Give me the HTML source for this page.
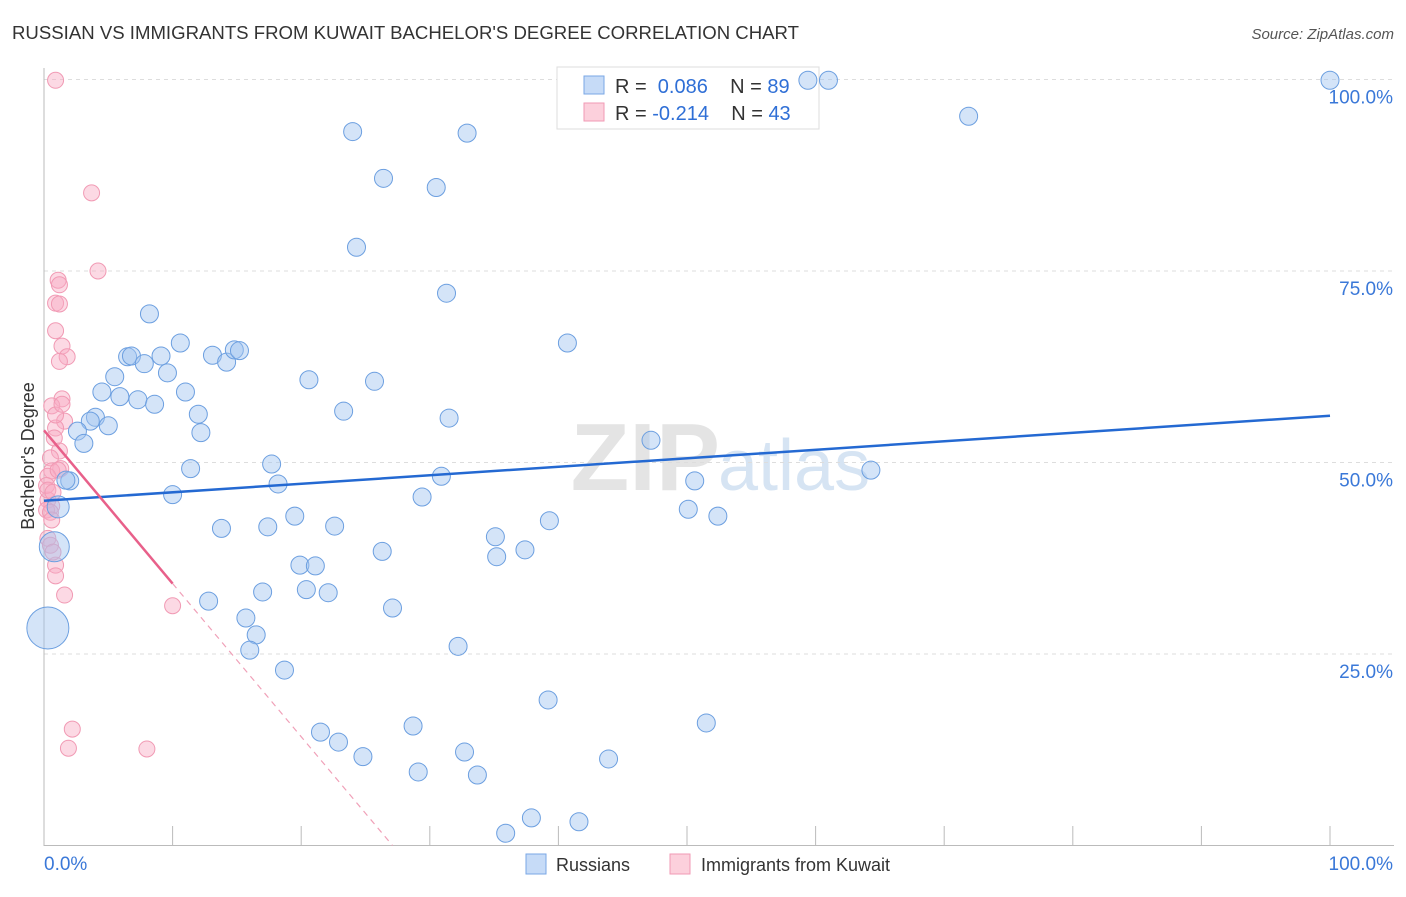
<!DOCTYPE html>
<html><head><meta charset="utf-8"><style>
body{margin:0;background:#fff;font-family:"Liberation Sans",sans-serif;}
svg text{font-family:"Liberation Sans",sans-serif;}
</style></head><body>
<svg id="chart" width="1406" height="892" xmlns="http://www.w3.org/2000/svg">
<text x="12" y="39" font-size="18.6" fill="#333">RUSSIAN VS IMMIGRANTS FROM KUWAIT BACHELOR'S DEGREE CORRELATION CHART</text>
<text x="1394" y="39" font-size="15" fill="#555" text-anchor="end" font-style="italic">Source: ZipAtlas.com</text>
<text x="720" y="490" font-size="96" fill="#e4e4e4" text-anchor="end" font-family="Liberation Serif" font-weight="bold">ZIP</text>
<text x="718" y="490" font-size="72" fill="#d6e4f3">atlas</text>
<g id="grid"></g><g id="axes"></g>
<g>
<rect x="557" y="67" width="262" height="62" fill="#fff" stroke="#ddd"/>
<rect x="584" y="76" width="20" height="18" fill="#c6dbf7" stroke="#7aa7e6"/>
<rect x="584" y="103" width="20" height="18" fill="#fcd0dc" stroke="#f19ab4"/>
<text x="615" y="93" font-size="20" fill="#333">R = <tspan fill="#2f6fd6">&#160;0.086</tspan>&#160;&#160;&#160;&#160;N = <tspan fill="#2f6fd6">89</tspan></text>
<text x="615" y="120" font-size="20" fill="#333">R = <tspan fill="#2f6fd6">-0.214</tspan>&#160;&#160;&#160;&#160;N = <tspan fill="#2f6fd6">43</tspan></text>
</g>
<g id="pts"></g><g id="lines"></g>
<text x="34" y="456" font-size="18" fill="#333" text-anchor="middle" transform="rotate(-90 34 456)">Bachelor's Degree</text>
<g>
<rect x="526" y="854" width="20" height="20" fill="#c6dbf7" stroke="#7aa7e6"/>
<text x="556" y="871" font-size="18" fill="#333">Russians</text>
<rect x="670" y="854" width="20" height="20" fill="#fcd0dc" stroke="#f19ab4"/>
<text x="701" y="871" font-size="18" fill="#333">Immigrants from Kuwait</text>
</g>
</svg>
<script>
const blueX=[8.2,10.6,6.5,6.8,7.8,9.1,9.6,13.1,14.2,14.8,15.2,5.5,4.5,5.9,7.3,8.6,11.0,12.0,4.0,3.6,5.0,2.6,3.1,12.2,11.4,10.0,2.0,1.7,1.1,0.8,0.3,13.8,17.4,17.7,18.2,19.5,22.6,20.6,23.3,25.7,24.0,32.9,26.4,30.5,24.3,31.3,31.5,29.4,30.9,40.7,47.2,50.6,50.1,52.4,64.3,71.9,61.0,59.4,100,39.3,35.1,35.2,37.4,26.3,19.9,21.1,20.4,22.1,17.0,12.8,27.1,15.7,16.5,16.0,32.2,18.7,39.2,28.7,51.5,21.5,22.9,24.8,32.7,29.1,33.7,43.9,37.9,35.9,41.6];
const blueY=[69.4,65.6,63.8,63.9,62.9,63.9,61.7,64.0,63.1,64.7,64.6,61.2,59.2,58.6,58.2,57.6,59.2,56.3,55.9,55.4,54.8,54.1,52.5,53.9,49.2,45.8,47.6,47.7,44.2,39.0,28.4,41.4,41.6,49.8,47.2,43.0,41.7,60.8,56.7,60.6,93.2,93.0,87.1,85.9,78.1,72.1,55.8,45.5,48.2,65.6,52.9,47.6,43.9,43.0,49.0,95.2,99.9,99.9,99.9,42.4,40.3,37.7,38.6,38.4,36.6,36.5,33.4,33.0,33.1,31.9,31.0,29.7,27.5,25.5,26.0,22.9,19.0,15.6,16.0,14.8,13.5,11.6,12.2,9.6,9.2,11.3,3.6,1.6,3.1];
const blueSize=[9,9,9,9,9,9,9,9,9,9,9,9,9,9,9,9,9,9,9,9,9,9,9,9,9,9,9,9,11,15,21];
const pinkX=[0.9,3.7,4.2,1.1,1.2,0.9,1.2,0.9,1.4,1.8,1.2,1.4,0.6,1.6,0.9,0.8,1.2,0.5,1.3,0.6,0.3,0.3,0.6,0.2,0.5,0.6,0.3,0.5,0.9,0.9,1.6,10.0,2.2,1.9,8.0,0.2,0.9,0.3,0.7,1.4,1.1,0.7];
const pinkY=[99.9,85.2,75.0,73.8,73.2,70.8,70.7,67.2,65.2,63.8,63.2,58.3,57.4,55.4,54.5,53.2,51.5,50.6,49.2,48.9,48.2,45.1,44.3,43.8,43.5,42.5,40.1,39.2,36.6,35.2,32.7,31.3,15.2,12.7,12.6,47.0,56.2,46.4,46.1,57.6,49.0,38.3];
const blueFit=[45.0,56.1];
const pinkFit=[54.2,-2.0];
const xTicks=["0.0%","100.0%"];
const yTickVals=[25,50,75,100];
const yTickLabels=["25.0%","50.0%","75.0%","100.0%"];
const NS="http://www.w3.org/2000/svg";
const X=v=>44+v*12.86, Y=v=>845.5-v*7.66;
function mk(tag,attrs,parent){const e=document.createElementNS(NS,tag);for(const k in attrs)e.setAttribute(k,attrs[k]);document.getElementById(parent).appendChild(e);return e;}
yTickVals.forEach((v,i)=>{
  const l=mk('line',{x1:44,x2:1394,y1:Y(v),y2:Y(v),stroke:'#ddd','stroke-dasharray':'4,4'},'grid');
  
  
  const t=mk('text',{x:1393,y:Y(v)+24,'font-size':19,fill:'#3a78d8','text-anchor':'end'},'grid');
  t.textContent=yTickLabels[i];
  
  
});
mk('line',{x1:44,x2:44,y1:68,y2:846,stroke:'#bbb'},'axes');
mk('line',{x1:44,x2:1394,y1:845.5,y2:845.5,stroke:'#bbb'},'axes');
for(let i=0;i<=10;i++){const l=mk('line',{x1:X(i*10),x2:X(i*10),y1:826,y2:846,stroke:'#bbb'},'axes');
  
  }
let t0=mk('text',{x:44,y:870,'font-size':19,fill:'#3a78d8'},'axes');t0.textContent=xTicks[0];


let t1=mk('text',{x:1393,y:870,'font-size':19,fill:'#3a78d8','text-anchor':'end'},'axes');t1.textContent=xTicks[1];


pinkX.forEach((x,i)=>{const c=mk('circle',{cx:X(x),cy:Y(pinkY[i]),r:8,fill:'rgba(248,170,195,0.45)',stroke:'#f19ab4','stroke-width':1},'pts');
  
  });
blueX.forEach((x,i)=>{const c=mk('circle',{cx:X(x),cy:Y(blueY[i]),r:blueSize[i]||9,fill:'rgba(160,195,240,0.45)',stroke:'#6c9fe0','stroke-width':1},'pts');
  
  });
const bl=mk('line',{x1:X(0),y1:Y(blueFit[0]),x2:X(100),y2:Y(blueFit[1]),stroke:'#2469d2','stroke-width':2.5},'lines');


const pl=mk('line',{x1:X(0),y1:Y(pinkFit[0]),x2:X(10),y2:Y(pinkFit[0]+pinkFit[1]*10),stroke:'#e8608a','stroke-width':2.5},'lines');


const xz=-pinkFit[0]/pinkFit[1];
const pd=mk('line',{x1:X(10),y1:Y(pinkFit[0]+pinkFit[1]*10),x2:X(xz),y2:Y(0),stroke:'#f0a0b8','stroke-width':1.2,'stroke-dasharray':'6,5'},'lines');


</script>
</body></html>
